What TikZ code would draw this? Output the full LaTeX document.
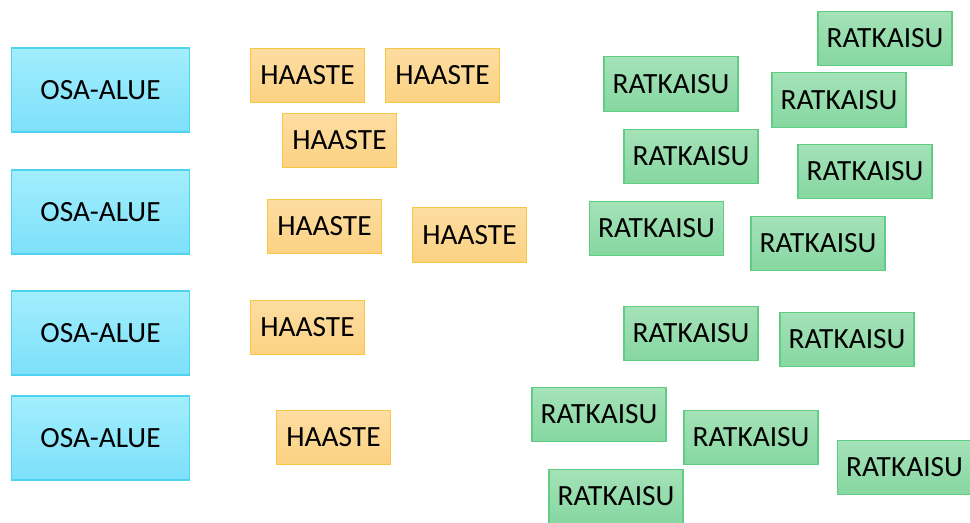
\documentclass[tikz,border=0pt]{standalone}
\usepackage{fontspec}
\setmainfont{Carlito}
\definecolor{bluetop}{HTML}{A2EEFD}
\definecolor{bluebot}{HTML}{7DE0FA}
\definecolor{blueline}{HTML}{4FD2F0}
\definecolor{ortop}{HTML}{FDDDA2}
\definecolor{orbot}{HTML}{FCD282}
\definecolor{orline}{HTML}{F7C744}
\definecolor{grtop}{HTML}{A5E2B8}
\definecolor{grbot}{HTML}{86D7A1}
\definecolor{grline}{HTML}{5FCD82}
\begin{document}
\begin{tikzpicture}[x=0.75pt,y=-0.75pt,
  lbl/.style={inner sep=0pt, font=\fontsize{22}{26}\selectfont, line width=0.9pt},
  area/.style={lbl, draw=blueline, top color=bluetop, bottom color=bluebot, minimum width=133pt, minimum height=63pt},
  challenge/.style={lbl, draw=orline, top color=ortop, bottom color=orbot, minimum width=86pt, minimum height=41pt},
  solution/.style={lbl, draw=grline, top color=grtop, bottom color=grbot, minimum width=100.5pt, minimum height=41pt}]
\useasboundingbox (0,0) rectangle (970,522);
\clip (0,0) rectangle (970,522);
% areas
\node[area] (a1) at (100.5,90) {OSA-ALUE};
\node[area] (a2) at (100.5,212) {OSA-ALUE};
\node[area] (a3) at (100.5,333) {OSA-ALUE};
\node[area] (a4) at (100.5,438) {OSA-ALUE};
% challenges
\node[challenge] (h1) at (307.5,75.5) {HAASTE};
\node[challenge] (h2) at (442.5,75.5) {HAASTE};
\node[challenge] (h3) at (339.5,140.5) {HAASTE};
\node[challenge] (h4) at (324.5,226.5) {HAASTE};
\node[challenge] (h5) at (469.5,235) {HAASTE};
\node[challenge] (h6) at (307.5,327.5) {HAASTE};
\node[challenge] (h7) at (333.5,437.5) {HAASTE};
% solutions
\node[solution] (r1) at (885,38.5) {RATKAISU};
\node[solution] (r2) at (671,84) {RATKAISU};
\node[solution] (r3) at (839,100) {RATKAISU};
\node[solution] (r4) at (691,156.5) {RATKAISU};
\node[solution] (r5) at (865,171.5) {RATKAISU};
\node[solution] (r6) at (656.5,228.5) {RATKAISU};
\node[solution] (r7) at (818,243.5) {RATKAISU};
\node[solution] (r8) at (691,333.5) {RATKAISU};
\node[solution] (r9) at (847,339.5) {RATKAISU};
\node[solution] (r10) at (599,414.5) {RATKAISU};
\node[solution] (r11) at (751,437.5) {RATKAISU};
\node[solution] (r12) at (904.5,467.5) {RATKAISU};
\node[solution] (r13) at (616,496.5) {RATKAISU};
\end{tikzpicture}
\end{document}
